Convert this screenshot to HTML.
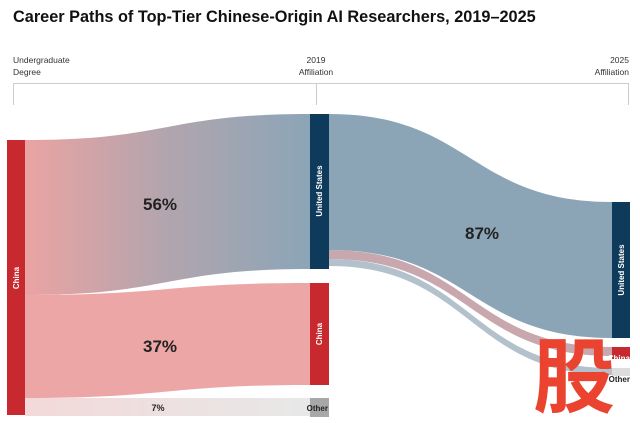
<!DOCTYPE html>
<html><head><meta charset="utf-8"><style>
html,body{margin:0;padding:0;background:#fff;}
svg{display:block;font-family:"Liberation Sans",sans-serif;}
</style></head><body>
<svg width="640" height="423" viewBox="0 0 640 423">
<defs>
<linearGradient id="g1" x1="25" x2="310" y1="0" y2="0" gradientUnits="userSpaceOnUse">
<stop offset="0" stop-color="#eba3a2"/><stop offset="0.5" stop-color="#b1a5ae"/><stop offset="1" stop-color="#8ba5b7"/></linearGradient>
<linearGradient id="g3" x1="25" x2="310" y1="0" y2="0" gradientUnits="userSpaceOnUse">
<stop offset="0" stop-color="#f3d9d9"/><stop offset="1" stop-color="#e8e8e8"/></linearGradient>
</defs>
<text x="13" y="22" font-size="16.3" font-weight="bold" fill="#111">Career Paths of Top-Tier Chinese-Origin AI Researchers, 2019–2025</text>
<g font-size="8.5" fill="#333">
<text x="13" y="63">Undergraduate</text><text x="13" y="75">Degree</text>
<text x="316" y="63" text-anchor="middle">2019</text><text x="316" y="75" text-anchor="middle">Affiliation</text>
<text x="629" y="63" text-anchor="end">2025</text><text x="629" y="75" text-anchor="end">Affiliation</text>
</g>
<g stroke="#ccc" stroke-width="1" fill="none">
<path d="M13.5 105V83.5H628.5V105"/><path d="M316.5 83.5V105"/>
</g>
<path d="M25 140 C170 140 165 114 310 114 L310 269 C165 269 170 295 25 295Z" fill="url(#g1)"/>
<path d="M25 295 C170 295 165 283 310 283 L310 385 C165 385 170 398 25 398Z" fill="#eba6a5"/>
<path d="M25 398 L310 398 L310 416 L25 416Z" fill="url(#g3)"/>
<path d="M329 114 C470 114 470 202 612 202 L612 338 C470 338 470 250 329 250Z" fill="#8ba5b7"/>
<path d="M329 250 C470 250 470 347 612 347 L612 356 C470 356 470 259 329 259Z" fill="#c8a7ae"/>
<path d="M329 259 C470 259 470 368 612 368 L612 375 C470 375 470 266 329 266Z" fill="#b3c1cc"/>
<rect x="7" y="140" width="18" height="275" fill="#c8292e"/>
<rect x="310" y="114" width="19" height="155" fill="#0e3a5c"/>
<rect x="310" y="283" width="19" height="102" fill="#c8292e"/>
<rect x="310" y="398" width="19" height="19" fill="#a8a8a8"/>
<rect x="612" y="202" width="18" height="136" fill="#0e3a5c"/>
<rect x="612" y="347" width="18" height="12" fill="#c8292e"/>
<rect x="612" y="368" width="18" height="8" fill="#ddd"/>
<g font-size="8" font-weight="bold" fill="#fff">
<text transform="translate(19,278) rotate(-90)" text-anchor="middle">China</text>
<text transform="translate(322,191) rotate(-90)" text-anchor="middle">United States</text>
<text transform="translate(322,334) rotate(-90)" text-anchor="middle">China</text>
<text transform="translate(624,270) rotate(-90)" text-anchor="middle">United States</text>
<text x="630" y="361" text-anchor="end">China</text>
</g>
<text x="328" y="411" font-size="8" font-weight="bold" fill="#222" text-anchor="end">Other</text>
<text x="630" y="382" font-size="8" font-weight="bold" fill="#222" text-anchor="end">Other</text>
<g font-weight="bold" fill="#222" text-anchor="middle">
<text x="160" y="210" font-size="17">56%</text>
<text x="160" y="352" font-size="17">37%</text>
<text x="158" y="411" font-size="9">7%</text>
<text x="482" y="239" font-size="17">87%</text>
</g>
<text x="574" y="406" font-size="82" font-weight="bold" fill="#ea4431" text-anchor="middle" font-family="'Noto Sans CJK SC',sans-serif">股</text>
</svg>
</body></html>
